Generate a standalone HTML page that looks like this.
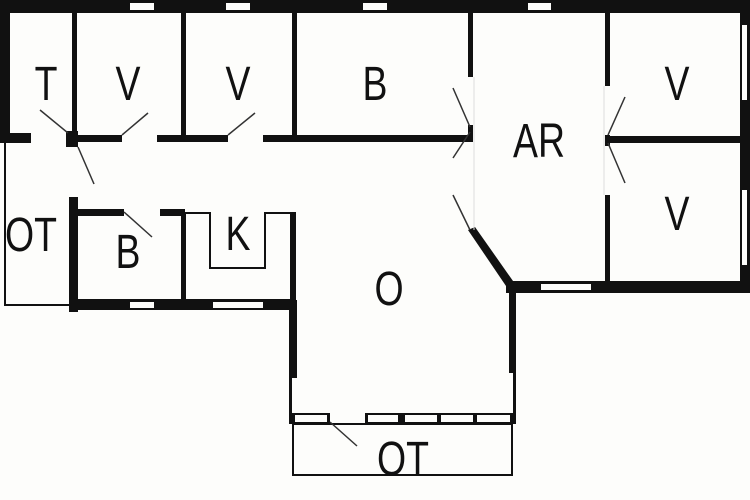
<!DOCTYPE html>
<html><head><style>
html,body{margin:0;padding:0;background:#fdfdfb;}
svg{display:block}
text{font-family:"Liberation Sans",sans-serif;font-size:48px;fill:#111;text-anchor:middle}
</style></head><body>
<svg width="750" height="500" viewBox="0 0 750 500">
<rect width="750" height="500" fill="#fdfdfb"/>
<g fill="#111">
<rect x="0" y="0" width="750" height="13"/>
<rect x="0" y="0" width="10" height="143"/>
<rect x="740" y="0" width="10" height="293"/>
<rect x="0" y="133" width="31" height="10"/>
<rect x="66" y="131" width="12" height="16"/>
<rect x="78" y="135" width="44" height="7"/>
<rect x="157" y="135" width="71" height="7"/>
<rect x="263" y="135" width="209" height="7"/>
<rect x="72" y="13" width="5" height="122"/>
<rect x="181" y="13" width="5" height="122"/>
<rect x="292" y="13" width="5" height="122"/>
<rect x="468" y="13" width="5" height="64"/>
<rect x="468" y="125" width="5" height="17"/>
<rect x="605" y="13" width="5" height="73"/>
<rect x="605" y="135" width="5" height="11"/>
<rect x="605" y="195" width="5" height="87"/>
<rect x="610" y="136" width="130" height="7"/>
<rect x="506" y="281" width="244" height="12"/>
<polygon points="468,230 475,227 513,281 506,286"/>
<rect x="509" y="283" width="7" height="90"/>
<rect x="289" y="300" width="8" height="78"/>
<rect x="69" y="197" width="9" height="115"/>
<rect x="72" y="209" width="52" height="7"/>
<rect x="160" y="209" width="25" height="7"/>
<rect x="181" y="212" width="5" height="88"/>
<rect x="290" y="212" width="6" height="98"/>
<rect x="69" y="299" width="227" height="11"/>
<rect x="289" y="413" width="227" height="11"/>
<rect x="289" y="373" width="3" height="45"/>
<rect x="513" y="373" width="3" height="45"/>
</g>
<g fill="#fdfdfb">
<rect x="130" y="3" width="24" height="7"/>
<rect x="226" y="3" width="24" height="7"/>
<rect x="363" y="3" width="24" height="7"/>
<rect x="528" y="3" width="23" height="7"/>
<rect x="742" y="25" width="5" height="75"/>
<rect x="742" y="190" width="5" height="75"/>
<rect x="541" y="284" width="50" height="6"/>
<rect x="130" y="302" width="24" height="6"/>
<rect x="213" y="302" width="50" height="6"/>
<rect x="292" y="378" width="4" height="35"/>
<rect x="510" y="373" width="3" height="40"/>
<rect x="295" y="415" width="32" height="7"/>
<rect x="330" y="413" width="35" height="11"/>
<rect x="368" y="415" width="30" height="7"/>
<rect x="405" y="415" width="32" height="7"/>
<rect x="441" y="415" width="32" height="7"/>
<rect x="477" y="415" width="33" height="7"/>
</g>
<g fill="none" stroke="#111" stroke-width="2">
<polyline points="5,143 5,305 69,305"/>
<polyline points="186,213 210,213 210,268 265,268 265,213 290,213"/>
<rect x="293" y="424" width="219" height="51"/>
</g>
<g stroke="#ddd" stroke-width="1">
<line x1="474" y1="77" x2="474" y2="230"/>
<line x1="604" y1="86" x2="604" y2="195"/>
</g>
<g stroke="#333" stroke-width="1.5">
<line x1="40" y1="110" x2="68" y2="133"/>
<line x1="78" y1="147" x2="94" y2="184"/>
<line x1="122" y1="135" x2="148" y2="113"/>
<line x1="228" y1="135" x2="255" y2="113"/>
<line x1="124" y1="212" x2="152" y2="237"/>
<line x1="453" y1="88" x2="470" y2="127"/>
<line x1="470" y1="132" x2="453" y2="158"/>
<line x1="453" y1="195" x2="470" y2="230"/>
<line x1="625" y1="97" x2="608" y2="135"/>
<line x1="608" y1="143" x2="625" y2="183"/>
<line x1="330" y1="422" x2="357" y2="446"/>
</g>
<text transform="translate(46,100) scale(0.78,1)">T</text>
<text transform="translate(128,100) scale(0.78,1)">V</text>
<text transform="translate(238,100) scale(0.78,1)">V</text>
<text transform="translate(375,100) scale(0.78,1)">B</text>
<text transform="translate(539,157) scale(0.78,1)">AR</text>
<text transform="translate(677,100) scale(0.78,1)">V</text>
<text transform="translate(677,230) scale(0.78,1)">V</text>
<text transform="translate(31,251) scale(0.78,1)">OT</text>
<text transform="translate(128,268) scale(0.78,1)">B</text>
<text transform="translate(238,250) scale(0.78,1)">K</text>
<text transform="translate(389,305) scale(0.78,1)">O</text>
<text transform="translate(403,475) scale(0.78,1)">OT</text>
</svg>
</body></html>
